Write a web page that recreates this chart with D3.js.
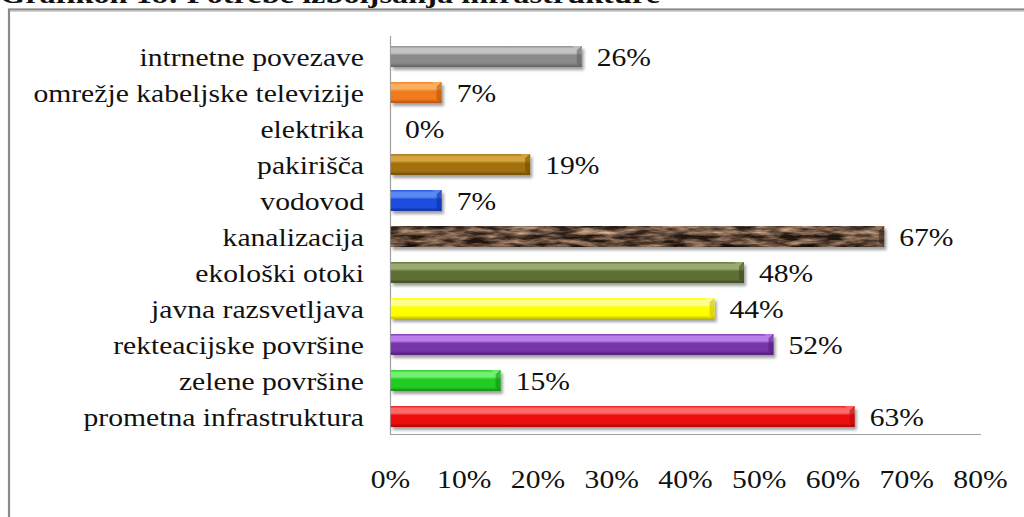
<!DOCTYPE html>
<html>
<head>
<meta charset="utf-8">
<script src="https://cdn.jsdelivr.net/npm/d3@7"></script>
<style>
  html, body { margin: 0; padding: 0; background: #fff; }
  svg { display: block; }
  text { font-family: "Liberation Serif", "Times New Roman", serif; fill: #111; }
</style>
</head>
<body>
<svg id="chart" width="1024" height="517"></svg>
<script>
// ---- data ----
const title = "Grafikon 18: Potrebe izboljšanja infrastrukture";
const categories = [
  "intrnetne povezave",
  "omrežje kabeljske televizije",
  "elektrika",
  "pakirišča",
  "vodovod",
  "kanalizacija",
  "ekološki otoki",
  "javna razsvetljava",
  "rekteacijske površine",
  "zelene površine",
  "prometna infrastruktura"
];
const values = [0.26, 0.07, 0.00, 0.19, 0.07, 0.67, 0.48, 0.44, 0.52, 0.15, 0.63];
const tickValues = [0, 0.1, 0.2, 0.3, 0.4, 0.5, 0.6, 0.7, 0.8];
// bar colours: [light, base, dark]
const barColors = [
  ["#c4c4c4", "#8a8a8a", "#5e5e5e"],
  ["#fbb060", "#f07a1e", "#b85008"],
  ["#e0e0e0", "#b0b0b0", "#808080"],
  ["#d4a440", "#a2700c", "#6e4a00"],
  ["#5a88f4", "#1c4ee0", "#0a2e9a"],
  ["#9a7a64", "#6a4a38", "#3e2a1e"],
  ["#9aaa70", "#5e7036", "#3a4820"],
  ["#ffff90", "#ffff00", "#c4bc00"],
  ["#bc80ec", "#7634a8", "#4e1a78"],
  ["#70f070", "#22cc22", "#108a10"],
  ["#ff6a6a", "#ee1111", "#a80000"]
];

const svg = d3.select("#chart");
const SX = 1.14; // horizontal glyph stretch of the original rendering

// ---- defs ----
const defs = svg.append("defs");
const shadow = defs.append("filter").attr("id", "shadow")
  .attr("x", "-5%").attr("y", "-30%").attr("width", "115%").attr("height", "180%");
shadow.append("feDropShadow").attr("dx", 2).attr("dy", 3).attr("stdDeviation", 1.8)
  .attr("flood-color", "#000").attr("flood-opacity", 0.38);

barColors.forEach((c, i) => {
  const g = defs.append("linearGradient").attr("id", "grad" + i)
    .attr("x1", 0).attr("y1", 0).attr("x2", 0).attr("y2", 1);
  g.append("stop").attr("offset", "0%").attr("stop-color", c[1]);
  g.append("stop").attr("offset", "12%").attr("stop-color", c[0]);
  g.append("stop").attr("offset", "32%").attr("stop-color", c[0]);
  g.append("stop").attr("offset", "45%").attr("stop-color", c[1]);
  g.append("stop").attr("offset", "82%").attr("stop-color", c[1]);
  g.append("stop").attr("offset", "100%").attr("stop-color", c[2]);
});

// marble texture for the kanalizacija bar
const marble = defs.append("filter").attr("id", "marble")
  .attr("color-interpolation-filters", "sRGB")
  .attr("x", 0).attr("y", 0).attr("width", "100%").attr("height", "100%");
marble.append("feTurbulence").attr("type", "fractalNoise")
  .attr("baseFrequency", "0.045 0.2").attr("numOctaves", 4).attr("seed", 7).attr("result", "noise");
marble.append("feColorMatrix").attr("in", "noise").attr("type", "matrix")
  .attr("values", "1.7 0 0 0 -0.5  1.45 0 0 0 -0.45  1.2 0 0 0 -0.38  0 0 0 0 1")
  .attr("result", "col");
marble.append("feComposite").attr("in", "col").attr("in2", "SourceGraphic").attr("operator", "in");

// ---- frame & title ----
svg.append("rect").attr("x", 9).attr("y", 9.5).attr("width", 1040).attr("height", 540)
  .attr("fill", "#fff").attr("stroke", "#8a8a8a").attr("stroke-width", 2.2);
svg.append("line").attr("x1", 10).attr("x2", 1024).attr("y1", 11.3).attr("y2", 11.3)
  .attr("stroke", "#c8c8c8").attr("stroke-width", 1);

svg.append("text").attr("x", 0).attr("y", 3)
  .attr("font-size", 26).attr("font-weight", "bold")
  .attr("textLength", 660).attr("lengthAdjust", "spacingAndGlyphs")
  .text(title);

// ---- scales ----
const x = d3.scaleLinear().domain([0, 0.8]).range([390, 980]);
const y = d3.scaleBand().domain(categories).range([38.5, 434.5])
  .paddingInner(0.42).paddingOuter(0.21);

// ---- axes ----
const xAxis = d3.axisBottom(x).tickValues(tickValues).tickFormat(d3.format(".0%"))
  .tickSizeInner(0).tickSizeOuter(0);
const gx = svg.append("g").attr("transform", "translate(0,434.5)").call(xAxis);
gx.select(".domain").attr("stroke", "#a0a0a0").attr("stroke-width", 1.2)
  .attr("d", `M${x(0)},0H${x(0.8) + 1}`);
gx.selectAll(".tick text")
  .attr("y", 53.5).attr("dy", null)
  .attr("font-size", 26).attr("fill", "#111")
  .attr("font-family", '"Liberation Serif", "Times New Roman", serif')
  .attr("transform", `scale(${SX},1)`);

const yAxis = d3.axisLeft(y).tickSize(0).tickPadding(0);
const gy = svg.append("g").attr("transform", "translate(390.5,0)").call(yAxis);
gy.select(".domain").attr("stroke", "#a0a0a0").attr("stroke-width", 1.2)
  .attr("d", "M0,36V435");
gy.selectAll(".tick text").remove();

// category labels
svg.append("g").selectAll("text").data(categories).join("text")
  .attr("transform", d => `translate(364,${y(d) + y.bandwidth() / 2}) scale(${SX},1)`)
  .attr("text-anchor", "end").attr("dy", "0.36em")
  .attr("font-size", 26)
  .text(d => d);

// ---- bars ----
const rows = categories.map((c, i) => ({ c, v: values[i], i }));
const bars = svg.append("g").selectAll("g").data(rows.filter(d => d.v > 0)).join("g")
  .attr("filter", "url(#shadow)");

bars.append("rect")
  .attr("x", x(0) + 0.8)
  .attr("y", d => y(d.c))
  .attr("width", d => x(d.v) - x(0) - 0.8)
  .attr("height", y.bandwidth())
  .attr("fill", d => `url(#grad${d.i})`);

// marble overlay for the textured bar
bars.filter(d => d.c === "kanalizacija").append("rect")
  .attr("x", x(0) + 0.8)
  .attr("y", d => y(d.c))
  .attr("width", d => x(d.v) - x(0) - 0.8)
  .attr("height", y.bandwidth())
  .attr("fill", "#6a4a38")
  .attr("filter", "url(#marble)");
bars.filter(d => d.c === "kanalizacija").append("rect")
  .attr("x", x(0) + 0.8)
  .attr("y", d => y(d.c))
  .attr("width", d => x(d.v) - x(0) - 0.8)
  .attr("height", y.bandwidth())
  .attr("fill", d => `url(#grad${d.i})`).attr("opacity", 0.3);

// right-end bevel
bars.append("path")
  .attr("d", d => {
    const x1 = x(d.v), y0 = y(d.c), h = y.bandwidth();
    return `M${x1 - 5},${y0 + 4}L${x1},${y0}L${x1},${y0 + h}L${x1 - 5},${y0 + h - 4}Z`;
  })
  .attr("fill", d => barColors[d.i][2]).attr("opacity", 0.55);
bars.append("path")
  .attr("d", d => {
    const x1 = x(d.v), y0 = y(d.c);
    return `M${x1 - 5},${y0 + 4}L${x1},${y0}L${x1 - 10},${y0}Z`;
  })
  .attr("fill", d => barColors[d.i][0]).attr("opacity", 0.8);

// value labels
svg.append("g").selectAll("text").data(rows).join("text")
  .attr("transform", d => `translate(${x(d.v) + 15},${y(d.c) + y.bandwidth() / 2}) scale(${SX},1)`)
  .attr("dy", "0.36em")
  .attr("font-size", 26)
  .text(d => d3.format(".0%")(d.v));
</script>
</body>
</html>
